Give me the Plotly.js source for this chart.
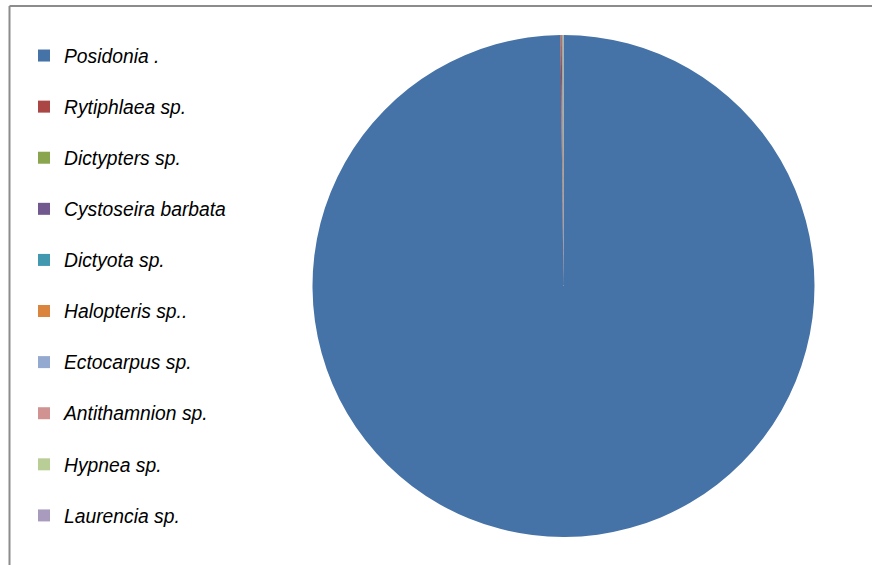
<!DOCTYPE html>
<html>
<head>
<meta charset="utf-8">
<script src="https://cdn.plot.ly/plotly-3.0.1.min.js"></script>
<style>html,body{margin:0;padding:0;background:#fff;}#chart{width:872px;height:565px;}</style>
</head>
<body>
<div id="chart"></div>
<script>
const species = ["Posidonia .", "Rytiphlaea sp.", "Dictypters sp.", "Cystoseira barbata", "Dictyota sp.", "Halopteris sp..", "Ectocarpus sp.", "Antithamnion sp.", "Hypnea sp.", "Laurencia sp."];
const shares = [99.8, 0.08, 0.04, 0.015, 0.015, 0.01, 0.01, 0.01, 0.005, 0.005];
const sliceColors = ["#4572A7", "#AA4643", "#89A54E", "#71588F", "#4198AF", "#DB843D", "#93A9CF", "#D19392", "#B9CD96", "#A99BBD"];

const W = 872, H = 565;
const trace = {
  type: "pie",
  labels: species.map(s => '<span style="font-size:19.3px">' + s + '</span><br> '),
  values: shares,
  sort: false,
  direction: "clockwise",
  rotation: 0,
  textinfo: "none",
  hoverinfo: "percent",
  marker: { colors: sliceColors, line: { width: 0 } },
  domain: { x: [312.5 / W, 814.5 / W], y: [(H - 537) / H, (H - 35) / H] },
  automargin: false
};

const layout = {
  width: W, height: H,
  margin: { l: 0, r: 0, t: 0, b: 0 },
  paper_bgcolor: "#ffffff",
  showlegend: true,
  legend: {
    x: 24 / W, xanchor: "left",
    y: (H - 37) / H, yanchor: "top",
    valign: "top",
    font: { family: "Liberation Sans, Arial, sans-serif", size: 18.5, color: "#000000", style: "italic" },
    bgcolor: "rgba(0,0,0,0)",
    borderwidth: 0
  },
  shapes: [
    { type: "line", xref: "paper", yref: "paper", x0: 9.5 / W, x1: 1, y0: (H - 6) / H, y1: (H - 6) / H, line: { color: "#8c8c8c", width: 2 } },
    { type: "line", xref: "paper", yref: "paper", x0: 9.5 / W, x1: 9.5 / W, y0: 0, y1: (H - 6) / H, line: { color: "#8c8c8c", width: 2 } }
  ]
};

Plotly.newPlot("chart", [trace], layout, { displayModeBar: false, staticPlot: true });
</script>
</body>
</html>
